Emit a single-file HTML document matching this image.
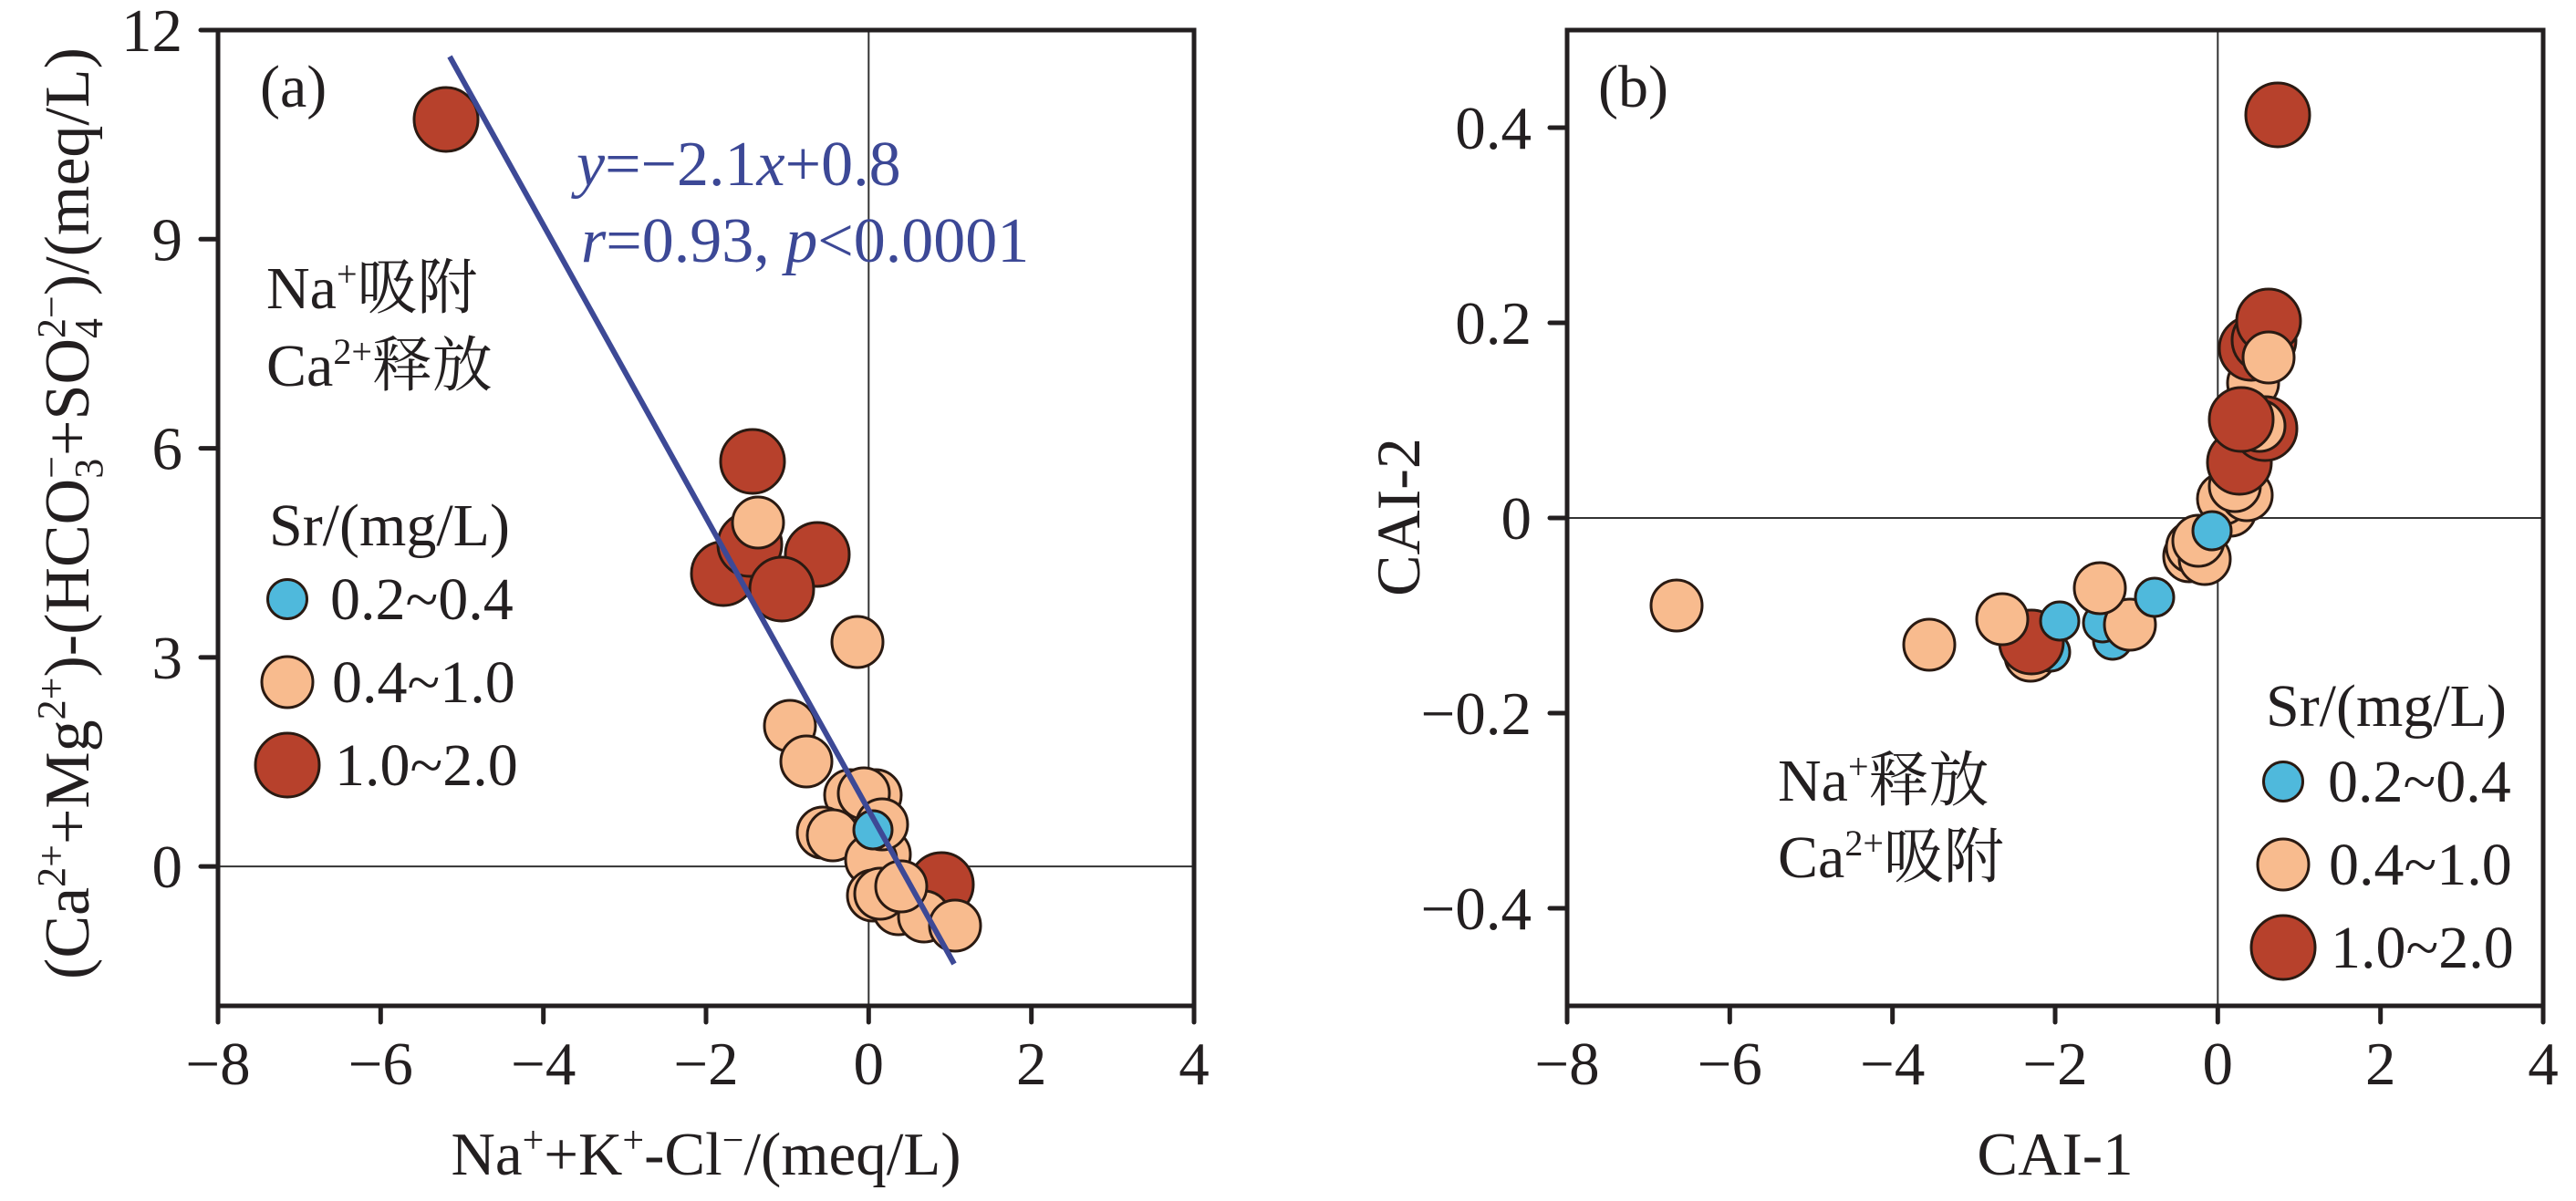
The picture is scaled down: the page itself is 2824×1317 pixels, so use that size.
<!DOCTYPE html>
<html><head><meta charset="utf-8"><style>
html,body{margin:0;padding:0;background:#fff;}
svg{display:block;}
text{font-family:"Liberation Serif","Noto Serif CJK SC",serif;fill:#231f20;}
</style></head><body>
<svg width="2824" height="1317" viewBox="0 0 2824 1317" xmlns="http://www.w3.org/2000/svg">
<rect width="2824" height="1317" fill="#fff"/>

<!-- ================= PANEL A ================= -->
<g>
<line x1="952.3" y1="33" x2="952.3" y2="1103" stroke="#333" stroke-width="2"/>
<line x1="239" y1="950.1" x2="1309" y2="950.1" stroke="#333" stroke-width="2"/>

<g stroke="#2a1a12" stroke-width="3">
<circle cx="793" cy="629" r="35" fill="#b7412c"/>
<circle cx="822" cy="597" r="35" fill="#b7412c"/>
<circle cx="831" cy="573" r="28" fill="#f8bb8e"/>
<circle cx="825" cy="506" r="35" fill="#b7412c"/>
<circle cx="896" cy="608" r="35" fill="#b7412c"/>
<circle cx="857" cy="646" r="35" fill="#b7412c"/>
<circle cx="489" cy="131" r="35" fill="#b7412c"/>
<circle cx="940" cy="704" r="28" fill="#f8bb8e"/>
<circle cx="866" cy="796" r="28" fill="#f8bb8e"/>
<circle cx="884" cy="835" r="28" fill="#f8bb8e"/>
<circle cx="1032" cy="970" r="35" fill="#b7412c"/>
<circle cx="932" cy="872" r="28" fill="#f8bb8e"/>
<circle cx="960" cy="872" r="28" fill="#f8bb8e"/>
<circle cx="947" cy="870" r="28" fill="#f8bb8e"/>
<circle cx="902" cy="913" r="28" fill="#f8bb8e"/>
<circle cx="913" cy="916" r="28" fill="#f8bb8e"/>
<circle cx="970" cy="937" r="28" fill="#f8bb8e"/>
<circle cx="955" cy="943" r="28" fill="#f8bb8e"/>
<circle cx="967" cy="904" r="28" fill="#f8bb8e"/>
<circle cx="957" cy="982" r="28" fill="#f8bb8e"/>
<circle cx="985" cy="997" r="28" fill="#f8bb8e"/>
<circle cx="1013" cy="1005" r="28" fill="#f8bb8e"/>
<circle cx="1047" cy="1015" r="28" fill="#f8bb8e"/>
<circle cx="965" cy="980" r="28" fill="#f8bb8e"/>
<circle cx="988" cy="972" r="28" fill="#f8bb8e"/>
<circle cx="957" cy="910" r="21" fill="#4fb9dc"/>
</g>

<line x1="493" y1="62" x2="1046" y2="1057" stroke="#3d4996" stroke-width="6"/>

<rect x="239" y="33" width="1070" height="1070" fill="none" stroke="#231f20" stroke-width="5"/>
<g stroke="#231f20" stroke-width="5" stroke-linecap="round">
<line x1="239" y1="1103" x2="239" y2="1121"/>
<line x1="417.3" y1="1103" x2="417.3" y2="1121"/>
<line x1="595.7" y1="1103" x2="595.7" y2="1121"/>
<line x1="774" y1="1103" x2="774" y2="1121"/>
<line x1="952.3" y1="1103" x2="952.3" y2="1121"/>
<line x1="1130.7" y1="1103" x2="1130.7" y2="1121"/>
<line x1="1309" y1="1103" x2="1309" y2="1121"/>
<line x1="239" y1="33" x2="220" y2="33"/>
<line x1="239" y1="262.3" x2="220" y2="262.3"/>
<line x1="239" y1="491.6" x2="220" y2="491.6"/>
<line x1="239" y1="720.9" x2="220" y2="720.9"/>
<line x1="239" y1="950.1" x2="220" y2="950.1"/>
</g>

<g font-size="67" text-anchor="middle">
<text x="239" y="1189">−8</text>
<text x="417.3" y="1189">−6</text>
<text x="595.7" y="1189">−4</text>
<text x="774" y="1189">−2</text>
<text x="952.3" y="1189">0</text>
<text x="1130.7" y="1189">2</text>
<text x="1309" y="1189">4</text>
</g>
<g font-size="67" text-anchor="end">
<text x="200" y="56">12</text>
<text x="200" y="285.3">9</text>
<text x="200" y="514.6">6</text>
<text x="200" y="743.9">3</text>
<text x="200" y="973.1">0</text>
</g>

<text x="774" y="1288" font-size="67" text-anchor="middle">Na<tspan font-size="42" dy="-24">+</tspan><tspan dy="24">+K</tspan><tspan font-size="42" dy="-24">+</tspan><tspan dy="24">-Cl</tspan><tspan font-size="42" dy="-24">−</tspan><tspan dy="24">/(meq/L)</tspan></text>

<text transform="translate(97,563) rotate(-90)" font-size="70" text-anchor="middle">(Ca<tspan font-size="44" dy="-26">2+</tspan><tspan dy="26">+Mg</tspan><tspan font-size="44" dy="-26">2+</tspan><tspan dy="26">)-(HCO</tspan><tspan font-size="44" dy="15">3</tspan><tspan font-size="44" dx="-22" dy="-41">−</tspan><tspan dy="26">+SO</tspan><tspan font-size="44" dy="15">4</tspan><tspan font-size="44" dx="-22" dy="-41">2−</tspan><tspan dy="26">)/(meq/L)</tspan></text>

<text x="285" y="117" font-size="66">(a)</text>
<text x="632" y="203" font-size="70" style="fill:#3c4896"><tspan font-style="italic" style="fill:#3c4896">y</tspan>=−2.1<tspan font-style="italic" style="fill:#3c4896">x</tspan>+0.8</text>
<text x="637" y="287" font-size="70" style="fill:#3c4896"><tspan font-style="italic" style="fill:#3c4896">r</tspan>=0.93, <tspan font-style="italic" style="fill:#3c4896">p</tspan>&lt;0.0001</text>

<text x="292" y="338" font-size="66">Na<tspan font-size="40" dy="-24">+</tspan><tspan dy="24">吸附</tspan></text>
<text x="292" y="423" font-size="66">Ca<tspan font-size="40" dy="-24">2+</tspan><tspan dy="24">释放</tspan></text>

<text x="295" y="598" font-size="66">Sr/(mg/L)</text>
<g stroke="#2a1a12" stroke-width="3">
<circle cx="315" cy="657" r="21.5" fill="#4fb9dc"/>
<circle cx="315" cy="748" r="28" fill="#f8bb8e"/>
<circle cx="315" cy="839" r="35" fill="#b7412c"/>
</g>
<g font-size="66">
<text x="362" y="679">0.2~0.4</text>
<text x="364" y="770">0.4~1.0</text>
<text x="367" y="861">1.0~2.0</text>
</g>
</g>

<!-- ================= PANEL B ================= -->
<g>
<line x1="2431.3" y1="33" x2="2431.3" y2="1103" stroke="#333" stroke-width="2"/>
<line x1="1718" y1="568" x2="2788" y2="568" stroke="#333" stroke-width="2"/>

<g stroke="#2a1a12" stroke-width="3">
<circle cx="1838" cy="664" r="28" fill="#f8bb8e"/>
<circle cx="2115" cy="707" r="28" fill="#f8bb8e"/>
<circle cx="2226" cy="719" r="28" fill="#f8bb8e"/>
<circle cx="2248" cy="715" r="21" fill="#4fb9dc"/>
<circle cx="2227" cy="704" r="35" fill="#b7412c"/>
<circle cx="2195" cy="679" r="28" fill="#f8bb8e"/>
<circle cx="2258" cy="681" r="21" fill="#4fb9dc"/>
<circle cx="2316" cy="702" r="21" fill="#4fb9dc"/>
<circle cx="2305" cy="683" r="21" fill="#4fb9dc"/>
<circle cx="2335" cy="685" r="28" fill="#f8bb8e"/>
<circle cx="2302" cy="645" r="28" fill="#f8bb8e"/>
<circle cx="2362" cy="655" r="21" fill="#4fb9dc"/>

<circle cx="2400" cy="610" r="28" fill="#f8bb8e"/>
<circle cx="2403" cy="600" r="28" fill="#f8bb8e"/>
<circle cx="2417" cy="613" r="28" fill="#f8bb8e"/>
<circle cx="2410" cy="593" r="28" fill="#f8bb8e"/>
<circle cx="2445" cy="560" r="28" fill="#f8bb8e"/>
<circle cx="2437" cy="547" r="28" fill="#f8bb8e"/>
<circle cx="2463" cy="543" r="28" fill="#f8bb8e"/>
<circle cx="2450" cy="533" r="28" fill="#f8bb8e"/>
<circle cx="2425" cy="582" r="21" fill="#4fb9dc"/>

<circle cx="2470" cy="420" r="28" fill="#f8bb8e"/>
<circle cx="2468" cy="382" r="35" fill="#b7412c"/>
<circle cx="2482" cy="373" r="35" fill="#b7412c"/>
<circle cx="2487" cy="352" r="35" fill="#b7412c"/>
<circle cx="2487" cy="392" r="28" fill="#f8bb8e"/>
<circle cx="2455" cy="507" r="35" fill="#b7412c"/>
<circle cx="2483" cy="470" r="35" fill="#b7412c"/>
<circle cx="2477" cy="467" r="28" fill="#f8bb8e"/>
<circle cx="2457" cy="460" r="35" fill="#b7412c"/>
<circle cx="2497" cy="126" r="35" fill="#b7412c"/>
</g>

<rect x="1718" y="33" width="1070" height="1070" fill="none" stroke="#231f20" stroke-width="5"/>
<g stroke="#231f20" stroke-width="5" stroke-linecap="round">
<line x1="1718" y1="1103" x2="1718" y2="1121"/>
<line x1="1896.3" y1="1103" x2="1896.3" y2="1121"/>
<line x1="2074.7" y1="1103" x2="2074.7" y2="1121"/>
<line x1="2253" y1="1103" x2="2253" y2="1121"/>
<line x1="2431.3" y1="1103" x2="2431.3" y2="1121"/>
<line x1="2609.7" y1="1103" x2="2609.7" y2="1121"/>
<line x1="2788" y1="1103" x2="2788" y2="1121"/>
<line x1="1718" y1="140" x2="1699" y2="140"/>
<line x1="1718" y1="354" x2="1699" y2="354"/>
<line x1="1718" y1="568" x2="1699" y2="568"/>
<line x1="1718" y1="782" x2="1699" y2="782"/>
<line x1="1718" y1="996" x2="1699" y2="996"/>
</g>

<g font-size="67" text-anchor="middle">
<text x="1718" y="1189">−8</text>
<text x="1896.3" y="1189">−6</text>
<text x="2074.7" y="1189">−4</text>
<text x="2253" y="1189">−2</text>
<text x="2431.3" y="1189">0</text>
<text x="2609.7" y="1189">2</text>
<text x="2788" y="1189">4</text>
</g>
<g font-size="67" text-anchor="end">
<text x="1679" y="163">0.4</text>
<text x="1679" y="377">0.2</text>
<text x="1679" y="591">0</text>
<text x="1679" y="805">−0.2</text>
<text x="1679" y="1019">−0.4</text>
</g>

<text x="2253" y="1288" font-size="67" text-anchor="middle">CAI-1</text>
<text transform="translate(1556,567) rotate(-90)" font-size="68" text-anchor="middle">CAI-2</text>

<text x="1752" y="117" font-size="66">(b)</text>
<text x="1949" y="878" font-size="66">Na<tspan font-size="40" dy="-24">+</tspan><tspan dy="24">释放</tspan></text>
<text x="1949" y="962" font-size="66">Ca<tspan font-size="40" dy="-24">2+</tspan><tspan dy="24">吸附</tspan></text>

<text x="2484" y="796" font-size="66">Sr/(mg/L)</text>
<g stroke="#2a1a12" stroke-width="3">
<circle cx="2503" cy="857" r="21.5" fill="#4fb9dc"/>
<circle cx="2503" cy="948" r="28" fill="#f8bb8e"/>
<circle cx="2503" cy="1039" r="35" fill="#b7412c"/>
</g>
<g font-size="66">
<text x="2552" y="879">0.2~0.4</text>
<text x="2553" y="970">0.4~1.0</text>
<text x="2555" y="1061">1.0~2.0</text>
</g>
</g>
</svg>
</body></html>
